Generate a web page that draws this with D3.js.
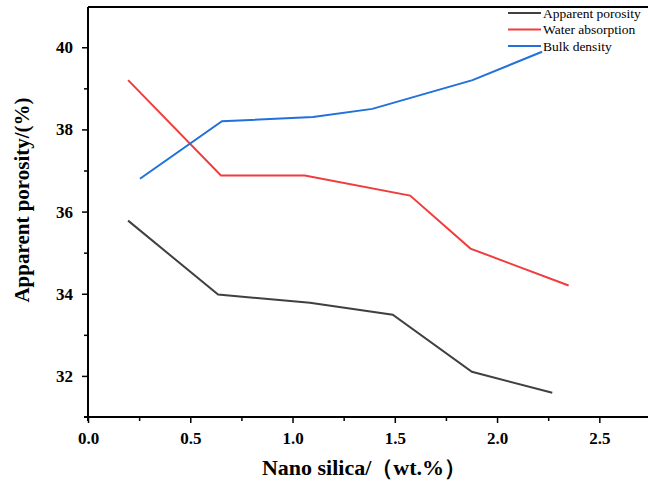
<!DOCTYPE html>
<html>
<head>
<meta charset="utf-8">
<script src="https://cdn.jsdelivr.net/npm/d3@7"></script>
<style>
  body { margin: 0; background: #fff; }
</style>
</head>
<body>
<div id="chart"></div>
<script>
// values
const porosityX = [0.196, 0.636, 1.085, 1.49, 1.877, 2.27];
const porosityY = [35.78, 33.98, 33.78, 33.49, 32.1, 31.59];
const absorptionX = [0.196, 0.65, 1.06, 1.575, 1.87, 2.35];
const absorptionY = [39.2, 36.88, 36.88, 36.39, 35.1, 34.2];
const densityX = [0.254, 0.655, 1.1, 1.39, 1.88, 2.22];
const densityY = [36.8, 38.2, 38.3, 38.5, 39.2, 39.89];
const seriesNames = ["Apparent porosity", "Water absorption", "Bulk density"];
const seriesColors = ["#404040", "#f03c3c", "#2270dc"];
const xTicks = [0, 0.5, 1.0, 1.5, 2.0, 2.5];
const yTicks = [32, 34, 36, 38, 40];

const W = 648, H = 486;
const FONT = "Liberation Serif";
const svg = d3.select("#chart").append("svg")
    .attr("width", W).attr("height", H);

const x = d3.scaleLinear().domain([0, 2.738]).range([88, 648]);
const y = d3.scaleLinear().domain([31, 40.98]).range([417, 7]);

const series = [
    {name: seriesNames[0], xs: porosityX, ys: porosityY},
    {name: seriesNames[1], xs: absorptionX, ys: absorptionY},
    {name: seriesNames[2], xs: densityX, ys: densityY}
];

// top frame line
svg.append("line")
    .attr("x1", 88).attr("x2", W).attr("y1", 7).attr("y2", 7)
    .attr("stroke", "#000").attr("stroke-width", 2);

// x axis, major + minor ticks
const xAxis = svg.append("g").attr("transform", "translate(0,417)");
xAxis.call(d3.axisBottom(x).tickValues(xTicks).tickFormat(d3.format(".1f")).tickSize(6).tickSizeOuter(0));
xAxis.attr("font-family", FONT);
xAxis.append("g").call(d3.axisBottom(x).tickValues([0.25, 0.75, 1.25, 1.75, 2.25]).tickFormat("").tickSize(4).tickSizeOuter(0))
    .select(".domain").remove();
xAxis.select(".domain").attr("d", "M84,0H" + W).attr("stroke-width", 2);
xAxis.selectAll(".tick line").attr("stroke-width", 1.5);
xAxis.selectAll(".tick text")
    .attr("dy", "1.05em")
    .attr("font-family", FONT)
    .attr("font-size", 17).attr("font-weight", "bold").attr("fill", "#000");

// y axis
const yAxis = svg.append("g").attr("transform", "translate(88,0)");
yAxis.call(d3.axisLeft(y).tickValues(yTicks).tickFormat(d3.format("d")).tickSize(6).tickSizeOuter(0));
yAxis.attr("font-family", FONT);
yAxis.append("g").call(d3.axisLeft(y).tickValues([33, 35, 37, 39]).tickFormat("").tickSize(4).tickSizeOuter(0))
    .select(".domain").remove();
yAxis.select(".domain").attr("d", "M0,7V421").attr("stroke-width", 2);
yAxis.selectAll(".tick line").attr("stroke-width", 1.5);
yAxis.selectAll(".tick text")
    .attr("x", -15)
    .attr("font-family", FONT)
    .attr("font-size", 17).attr("font-weight", "bold").attr("fill", "#000");

// lines
const line = d3.line().x(d => x(d[0])).y(d => y(d[1]));
svg.selectAll("path.series")
    .data(series)
    .join("path")
    .attr("class", "series")
    .attr("d", d => line(d.xs.map((v, i) => [v, d.ys[i]])))
    .attr("fill", "none")
    .attr("stroke", (d, i) => seriesColors[i])
    .attr("stroke-width", 2);

// legend
const legend = svg.selectAll("g.legend")
    .data(series)
    .join("g")
    .attr("class", "legend")
    .attr("transform", (d, i) => "translate(508," + (13 + i * 16.5) + ")");
legend.append("line")
    .attr("x1", 0).attr("x2", 33)
    .attr("stroke", (d, i) => seriesColors[i]).attr("stroke-width", 2);
legend.append("text")
    .attr("x", 35).attr("dy", "0.35em")
    .attr("font-family", FONT)
    .attr("font-size", 13.5)
    .text(d => d.name);

// axis titles
svg.append("text")
    .attr("x", 364).attr("y", 475)
    .attr("text-anchor", "middle")
    .attr("font-family", FONT)
    .attr("font-size", 22).attr("font-weight", "bold")
    .text("Nano silica/（wt.%）");
svg.append("text")
    .attr("transform", "translate(29,200) rotate(-90)")
    .attr("text-anchor", "middle")
    .attr("font-family", FONT)
    .attr("font-size", 21).attr("font-weight", "bold")
    .text("Apparent porosity/(%)");
</script>
</body>
</html>
